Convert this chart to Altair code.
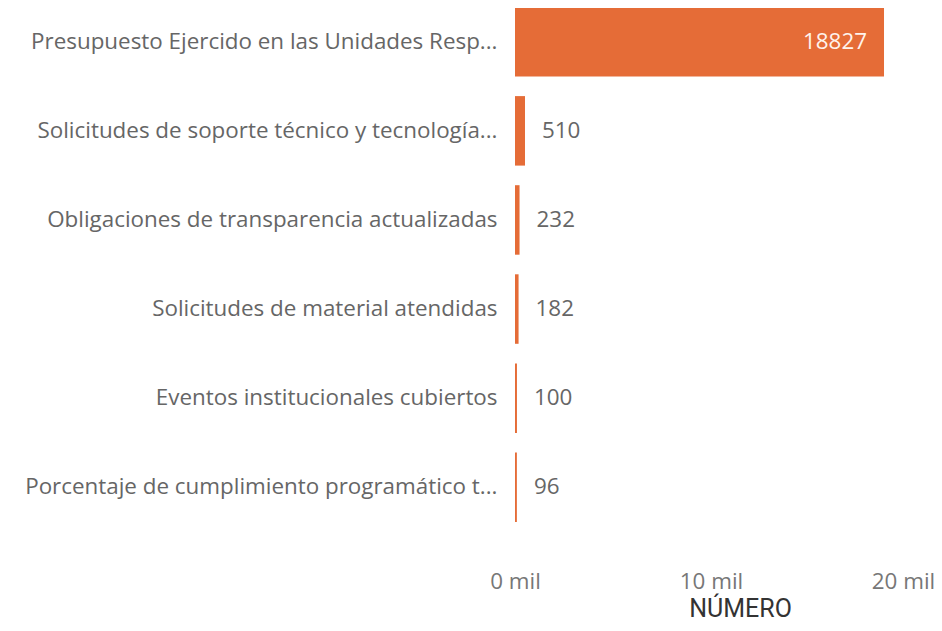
import altair as alt
import pandas as pd

categories = [
    "Presupuesto Ejercido en las Unidades Resp...",
    "Solicitudes de soporte técnico y tecnología...",
    "Obligaciones de transparencia actualizadas",
    "Solicitudes de material atendidas",
    "Eventos institucionales cubiertos",
    "Porcentaje de cumplimiento programático t...",
]
values = [18827, 510, 232, 182, 100, 96]

df = pd.DataFrame({"cat": categories, "val": values})

FONT = "Segoe UI, Open Sans, Noto Sans, sans-serif"
ORANGE = "#E56C37"
FS = 22.4

x = alt.X(
    "val:Q",
    scale=alt.Scale(domain=[0, 20000], nice=False),
    axis=alt.Axis(
        values=[0, 10000, 20000],
        labelExpr="datum.value/1000 + ' mil'",
        title="NÚMERO",
        grid=False,
        domain=False,
        ticks=False,
        labelPadding=48,
        labelFontSize=FS,
        labelColor="#777777",
        labelFont=FONT,
        labelOffset=alt.condition("datum.value == 20000", alt.value(-4), alt.value(0)),
        titleFont="DIN, Roboto, DejaVu Sans, sans-serif",
        titleFontSize=25,
        titleFontWeight="normal",
        titleColor="#333333",
        titleX=225,
        titleY=94,
        titleAlign="center",
        titleBaseline="alphabetic",
        labelFlush=False,
    ),
)
y = alt.Y(
    "cat:N",
    sort=None,
    scale=alt.Scale(paddingInner=0.22, paddingOuter=0),
    axis=alt.Axis(
        title=None,
        domain=False,
        ticks=False,
        labelPadding=18,
        labelFontSize=FS,
        labelColor="#666666",
        labelFont=FONT,
        labelLimit=0,
    ),
)

base = alt.Chart(df)
bars = base.mark_bar(color=ORANGE).encode(x=x, y=y)
inside = base.transform_filter("datum.val > 5000").mark_text(
    align="right", baseline="middle", dx=-17, fontSize=FS, color="#FFF3EC", font=FONT
).encode(x=x, y=y, text="val:Q")
outside = base.transform_filter("datum.val <= 5000").mark_text(
    align="left", baseline="middle", dx=17, fontSize=FS, color="#666666", font=FONT
).encode(x=x, y=y, text="val:Q")

chart = (
    alt.layer(bars, inside, outside)
    .properties(
        width=392,
        height=515,
        autosize=alt.AutoSizeParams(type="none"),
        padding={"left": 507, "top": -1, "right": 27, "bottom": 101},
    )
    .configure_view(stroke=None)
)

chart.save("out.html", embed_options={"renderer": "svg", "actions": False})
